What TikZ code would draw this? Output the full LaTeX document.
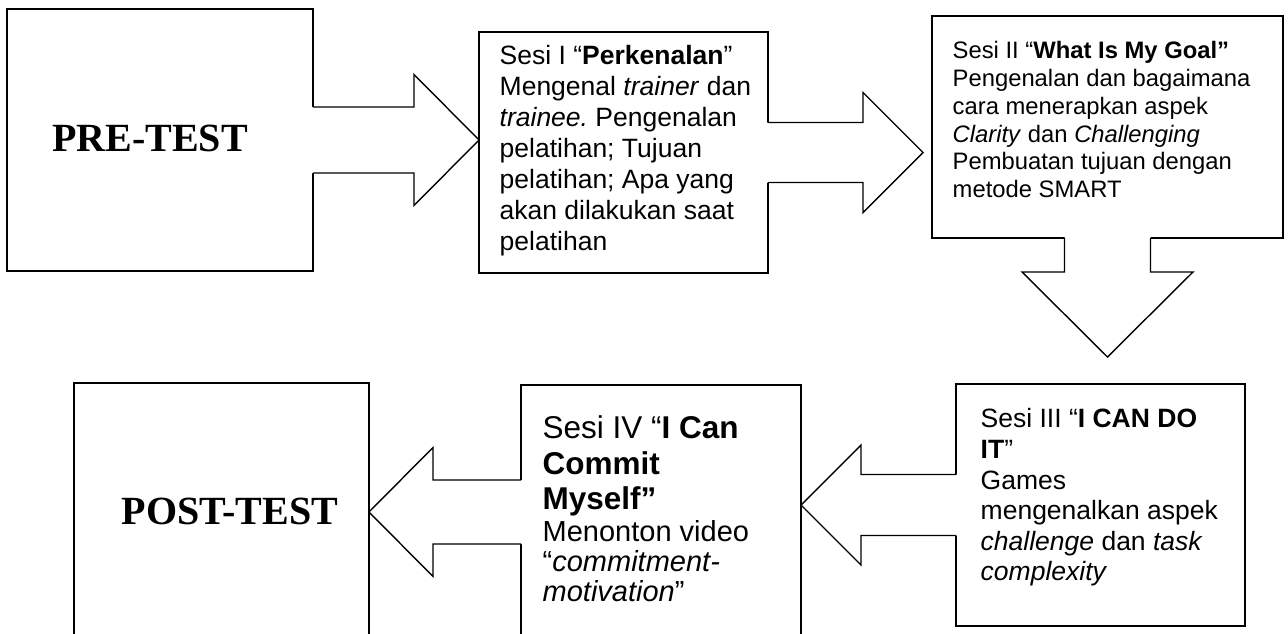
\documentclass[tikz,border=0pt]{standalone}
\usepackage{fontspec}
\setmainfont{Liberation Serif}
\setsansfont{Liberation Sans}
\usetikzlibrary{calc}
\frenchspacing
\tikzset{
  box/.style={draw, line width=1.4pt, inner sep=0pt, outer sep=0pt},
  bigtxt/.style={inner sep=0pt, font=\bfseries\fontsize{40}{48}\selectfont},
  sesitxt/.style={anchor=north west, inner sep=0pt, align=left}
}
% horizontal block arrow: #1 start, #2 tip, #3 half shaft, #4 head offset (signed), #5 half head, #6 back overlap
\newcommand{\blkH}[6]{%
  \fill[white] ($(#1)+(#6,-#3)$) -- ($(#2)+(#4,-#3)$) -- ($(#2)+(#4,-#5)$) -- (#2) -- ($(#2)+(#4,#5)$) -- ($(#2)+(#4,#3)$) -- ($(#1)+(#6,#3)$) -- cycle;
  \draw ($(#1)+(0,-#3)$) -- ($(#2)+(#4,-#3)$) -- ($(#2)+(#4,-#5)$) -- (#2) -- ($(#2)+(#4,#5)$) -- ($(#2)+(#4,#3)$) -- ($(#1)+(0,#3)$);
}
% vertical block arrow
\newcommand{\blkV}[6]{%
  \fill[white] ($(#1)+(-#3,#6)$) -- ($(#2)+(-#3,#4)$) -- ($(#2)+(-#5,#4)$) -- (#2) -- ($(#2)+(#5,#4)$) -- ($(#2)+(#3,#4)$) -- ($(#1)+(#3,#6)$) -- cycle;
  \draw ($(#1)+(-#3,0)$) -- ($(#2)+(-#3,#4)$) -- ($(#2)+(-#5,#4)$) -- (#2) -- ($(#2)+(#5,#4)$) -- ($(#2)+(#3,#4)$) -- ($(#1)+(#3,0)$);
}
\begin{document}
\begin{tikzpicture}[x=1pt, y=-1pt, line width=1.4pt, line join=miter]
\useasboundingbox (0,0) rectangle (1288,634);
\fill[white] (0,0) rectangle (1288,634);
\clip (0,0) rectangle (1288,634);

% boxes
\node[box, minimum width=306, minimum height=262] (pre)  at (160,140) {};
\node[box, minimum width=289, minimum height=241] (s1)   at (623.5,152.5) {};
\node[box, minimum width=351, minimum height=222] (s2)   at (1107.5,127) {};
\node[box, minimum width=289, minimum height=242] (s3)   at (1100.5,505) {};
\node[box, minimum width=280, minimum height=254] (s4)   at (661,512) {};
\node[box, minimum width=295, minimum height=258] (post) at (221.5,512) {};

% arrow tips
\coordinate (t1) at (s1.west |- pre.east);
\coordinate (t2) at ($(s2.west |- s1.east)+(-9,0)$);
\coordinate (t3) at ($(s2.south)+(0,119)$);
\coordinate (t4) at (s4.east |- s3.west);
\coordinate (t5) at (post.east |- s4.west);

% block arrows
\blkH{pre.east}{t1}{33}{-65}{65.5}{-2}
\blkH{s1.east}{t2}{30}{-60}{60}{-2}
\blkV{s2.south}{t3}{43}{-85}{85.5}{-2}
\blkH{s3.west}{t4}{30.5}{60}{60}{2}
\blkH{s4.west}{t5}{32}{64}{64.5}{2}

% texts
\node[bigtxt] (pretxt)  at (150,138) {PRE-TEST};
\node[bigtxt] (posttxt) at (230,511) {POST-TEST};

\node[sesitxt, font=\sffamily\fontsize{26.5}{31}\selectfont] (s1txt) at (499,45)
 {Sesi I “\textbf{Perkenalan}”\\
  Mengenal \textit{trainer} dan\\
  \textit{trainee.} Pengenalan\\
  pelatihan; Tujuan\\
  pelatihan; Apa yang\\
  akan dilakukan saat\\
  pelatihan};

\node[sesitxt, font=\sffamily\fontsize{23.8}{27.7}\selectfont] (s2txt) at (952,41)
 {Sesi II “\textbf{What Is My Goal”}\\
  Pengenalan dan bagaimana\\
  cara menerapkan aspek\\
  \textit{Clarity} dan \textit{Challenging}\\
  Pembuatan tujuan dengan\\
  metode SMART};

\node[sesitxt, font=\sffamily\fontsize{26.5}{30.6}\selectfont] (s3txt) at (980,408)
 {Sesi III “\textbf{I CAN DO}\\
  \textbf{IT}”\\
  Games\\
  mengenalkan aspek\\
  \textit{challenge} dan \textit{task}\\
  \textit{complexity}};

\node[sesitxt, font=\sffamily\fontsize{29}{30}\selectfont] (s4txt) at (542,415)
 {{\fontsize{31.5}{35.5}\selectfont Sesi IV “\textbf{I Can}}\\[5.5pt]
  {\fontsize{31.5}{35.5}\selectfont\textbf{Commit}}\\[5pt]
  {\fontsize{31.5}{35.5}\selectfont\textbf{Myself”}}\\[2pt]
  Menonton video\\
  “\textit{commitment-}\\
  \textit{motivation}”};
\end{tikzpicture}
\end{document}
